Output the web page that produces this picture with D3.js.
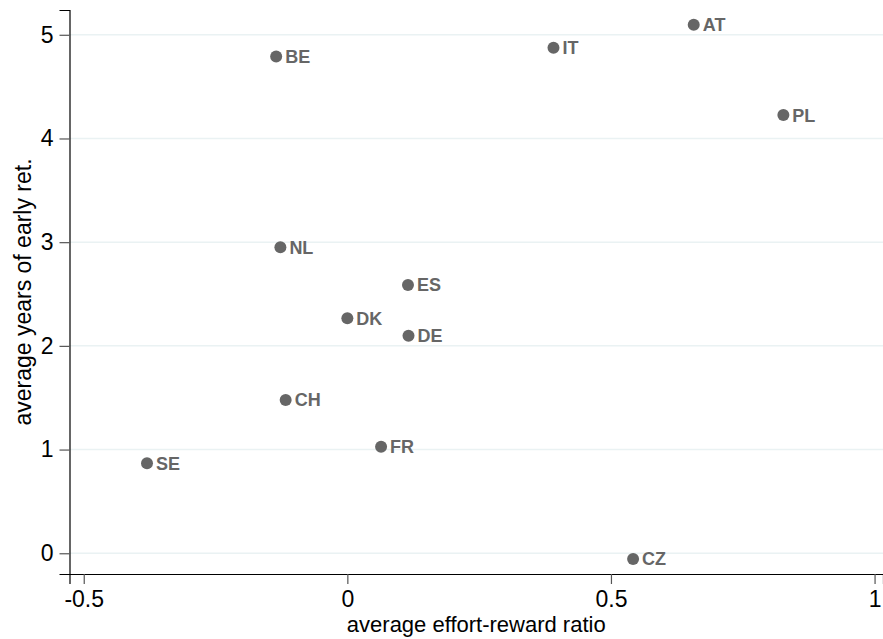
<!DOCTYPE html>
<html>
<head>
<meta charset="utf-8">
<script src="https://cdn.jsdelivr.net/npm/d3@7"></script>
<style>
  body { margin: 0; background: #fff; }
  text { font-family: "Liberation Sans", Arial, sans-serif; }
</style>
</head>
<body>
<svg id="chart" width="883" height="639"></svg>
<script>
  // country codes and their values
  var countries = ["AT", "PL", "IT", "BE", "NL", "ES", "DK", "DE", "CH", "FR", "SE", "CZ"];
  var effortReward = [0.657, 0.827, 0.391, -0.135, -0.127, 0.115, 0.0, 0.116, -0.117, 0.064, -0.380, 0.542];
  var earlyRetYears = [5.097, 4.226, 4.876, 4.79, 2.951, 2.587, 2.266, 2.098, 1.479, 1.028, 0.868, -0.055];
  var xTicks = [-0.5, 0, 0.5, 1];
  var yTicks = [0, 1, 2, 3, 4, 5];

  var data = countries.map(function(c, i) {
    return { name: c, x: effortReward[i], y: earlyRetYears[i] };
  });

  var svg = d3.select("#chart"),
      margin = {top: 10, right: 0, bottom: 65, left: 69.5},
      width = +svg.attr("width") - margin.left - margin.right,
      height = +svg.attr("height") - margin.top - margin.bottom;

  var x = d3.scaleLinear().domain([-0.527, 1.016]).range([0, width]),
      y = d3.scaleLinear().domain([-0.2, 5.239]).range([height, 0]);

  var g = svg.append("g")
    .attr("transform", "translate(" + margin.left + "," + margin.top + ")");

  // horizontal grid
  g.selectAll(".grid")
    .data(yTicks)
    .enter().append("line")
    .attr("x1", 0).attr("x2", width)
    .attr("y1", function(d) { return y(d); })
    .attr("y2", function(d) { return y(d); })
    .attr("stroke", "#eaf2f3")
    .attr("stroke-width", 1.5);

  var plainFmt = function(d) { return String(d); };  // "-0.5", "0", "1"

  var xAxis = g.append("g")
    .attr("transform", "translate(0," + height + ")")
    .call(d3.axisBottom(x).tickValues(xTicks).tickSize(10).tickPadding(7).tickFormat(plainFmt));

  var yAxis = g.append("g")
    .call(d3.axisLeft(y).tickValues(yTicks).tickSize(10).tickPadding(6).tickFormat(plainFmt));

  [xAxis, yAxis].forEach(function(ax) {
    ax.select(".domain").attr("stroke", "#000").attr("stroke-width", 1.2);
    ax.selectAll(".tick line").attr("stroke", "#555").attr("stroke-width", 1.2);
    ax.selectAll(".tick text").attr("fill", "#000").style("font-size", "23px");
  });

  // points
  g.selectAll(".dot")
    .data(data)
    .enter().append("circle")
    .attr("cx", function(d) { return x(d.x); })
    .attr("cy", function(d) { return y(d.y); })
    .attr("r", 6)
    .attr("fill", "#666");

  g.selectAll(".lbl")
    .data(data)
    .enter().append("text")
    .attr("x", function(d) { return x(d.x) + 9; })
    .attr("y", function(d) { return y(d.y); })
    .attr("dy", "0.36em")
    .attr("fill", "#666")
    .style("font-size", "18px")
    .style("font-weight", "bold")
    .text(function(d) { return d.name; });

  // axis titles
  svg.append("text")
    .attr("x", margin.left + width / 2)
    .attr("y", 632)
    .attr("text-anchor", "middle")
    .style("font-size", "22px")
    .text("average effort-reward ratio");

  svg.append("text")
    .attr("transform", "translate(31," + (margin.top + height / 2) + ") rotate(-90)")
    .attr("text-anchor", "middle")
    .style("font-size", "23px")
    .text("average years of early ret.");
</script>
</body>
</html>
